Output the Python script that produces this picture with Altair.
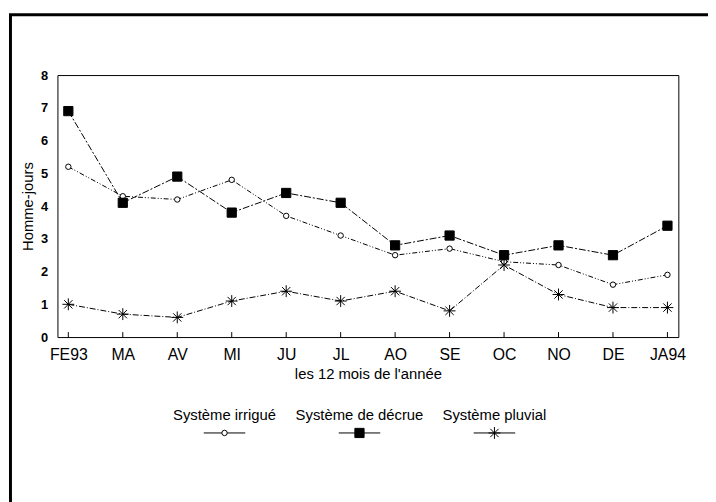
import altair as alt
import pandas as pd

# ---- data ----
months = ["FE93", "MA", "AV", "MI", "JU", "JL", "AO", "SE", "OC", "NO", "DE", "JA94"]
series_names = ["Système irrigué", "Système de décrue", "Système pluvial"]
irrigue = [5.2, 4.3, 4.2, 4.8, 3.7, 3.1, 2.5, 2.7, 2.3, 2.2, 1.6, 1.9]
decrue = [6.9, 4.1, 4.9, 3.8, 4.4, 4.1, 2.8, 3.1, 2.5, 2.8, 2.5, 3.4]
pluvial = [1.0, 0.7, 0.6, 1.1, 1.4, 1.1, 1.4, 0.8, 2.2, 1.3, 0.9, 0.9]
y_max = 8

rows = []
for name, vals in zip(series_names, [irrigue, decrue, pluvial]):
    for m, v in zip(months, vals):
        rows.append({"mois": m, "serie": name, "valeur": v})
df = pd.DataFrame(rows)
df_months = pd.DataFrame({"mois": months})
df_series = pd.DataFrame({"serie": series_names})

FONT = "Liberation Sans"
W, H = 628, 265

x_enc = alt.X(
    "mois:N",
    sort=months,
    scale=alt.Scale(type="point", domain=months, padding=0.2),
    axis=alt.Axis(
        title="les 12 mois de l'année",
        labelAngle=0,
        labelAlign="center",
        labelBaseline="top",
        ticks=False,
        domain=False,
        labelPadding=10,
        labelFontSize=16,
        titleFontSize=15,
        titleFontWeight="normal",
        titlePadding=4,
        labelColor="black",
        titleColor="black",
        labelFont=FONT,
        titleFont=FONT,
        labelOverlap=False,
    ),
)
y_enc = alt.Y(
    "valeur:Q",
    scale=alt.Scale(domain=[0, y_max], nice=False),
    axis=alt.Axis(
        title="Homme-jours",
        tickCount=y_max,
        tickMinStep=1,
        grid=False,
        ticks=False,
        domain=False,
        labelPadding=10,
        labelFontSize=13,
        labelFontWeight="bold",
        labelOverlap=False,
        titleFontSize=15,
        titleFontWeight="normal",
        titlePadding=5,
        labelColor="black",
        titleColor="black",
        labelFont=FONT,
        titleFont=FONT,
    ),
)

dash_scale = alt.Scale(domain=series_names,
                       range=[[5, 2, 1, 2, 1, 2], [7, 2, 2, 2], [6, 2, 1, 2]])
star = "M-1,0H1M0,-1V1M-0.7,-0.7L0.7,0.7M-0.7,0.7L0.7,-0.7"
shape_scale = alt.Scale(domain=series_names, range=["circle", "square", star])
fill_scale = alt.Scale(domain=series_names, range=["white", "black", "black"])
size_scale = alt.Scale(domain=series_names, range=[30, 144, 64])

lines = alt.Chart(df).mark_line(color="black", strokeWidth=1).encode(
    x=x_enc,
    y=y_enc,
    detail="serie:N",
    strokeDash=alt.StrokeDash("serie:N", scale=dash_scale, legend=None),
)

points = alt.Chart(df).mark_point(stroke="black", strokeWidth=1, opacity=1).encode(
    x=x_enc,
    y=y_enc,
    shape=alt.Shape("serie:N", scale=shape_scale, legend=None),
    fill=alt.Fill("serie:N", scale=fill_scale, legend=None),
    size=alt.Size("serie:N", scale=size_scale, legend=None),
)

ticks = alt.Chart(df_months).mark_rule(color="black", strokeWidth=1).encode(
    x=x_enc,
    y=alt.value(H - 5),
    y2=alt.value(H),
)

main = alt.layer(ticks, lines, points)

# ---- legend, drawn from the series list ----
leg_x = alt.X(
    "serie:N",
    sort=series_names,
    scale=alt.Scale(type="point", domain=series_names, range=[169, 442], padding=0),
    axis=None,
)
leg_text = alt.Chart(df_series).mark_text(
    font=FONT, fontSize=15, color="black", align="center", baseline="middle"
).encode(x=leg_x, y=alt.value(344), text="serie:N")
leg_line = alt.Chart(df_series).mark_rule(
    color="black", strokeWidth=1, xOffset=-21, x2Offset=21
).encode(x=leg_x, x2=alt.X2("serie:N"), y=alt.value(362))
leg_mark = alt.Chart(df_series).mark_point(stroke="black", strokeWidth=1, opacity=1).encode(
    x=leg_x,
    y=alt.value(362),
    shape=alt.Shape("serie:N", scale=shape_scale, legend=None),
    fill=alt.Fill("serie:N", scale=fill_scale, legend=None),
    size=alt.Size("serie:N", scale=size_scale, legend=None),
)
legend = alt.layer(leg_line, leg_mark, leg_text)

frame = alt.Chart(df_months.head(1)).mark_rect(
    fillOpacity=0, stroke="black", strokeWidth=3
).encode(
    x=alt.value(-47.5), x2=alt.value(W + 60),
    y=alt.value(-61), y2=alt.value(H + 180),
)

chart = alt.layer(frame, main, legend).resolve_scale(
    x="independent"
).properties(
    width=W,
    height=H,
    autosize=alt.AutoSizeParams(type="none"),
    padding={"left": 50, "top": 65, "right": 30, "bottom": 164},
).configure(
    background="white",
    view=alt.ViewConfig(stroke="black", strokeWidth=1),
    axisY=alt.AxisConfig(
        labelFontSize=13, labelFontWeight="bold", labelFont=FONT, labelColor="black",
        titleFontSize=15, titleFontWeight="normal", titleFont=FONT, titleColor="black",
        labelOverlap=False, grid=False, ticks=False, domain=False, tickCount=8,
        labelPadding=10, titlePadding=5,
    ),
)

chart.save("out.html", embed_options={"renderer": "svg", "actions": False})
